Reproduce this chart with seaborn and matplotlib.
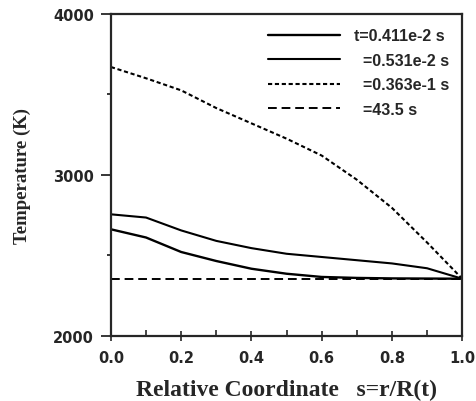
import numpy as np
import pandas as pd
import seaborn as sns
import matplotlib.pyplot as plt
from matplotlib.ticker import MultipleLocator

# radial profiles
s = [0.0, 0.1, 0.2, 0.3, 0.4, 0.5, 0.6, 0.7, 0.8, 0.9, 1.0]
T_411e2 = [2662, 2611, 2521, 2465, 2417, 2386, 2366, 2360, 2357, 2356, 2355]
T_531e2 = [2755, 2735, 2655, 2590, 2545, 2510, 2490, 2470, 2450, 2420, 2355]
T_363e1 = [3670, 3600, 3525, 3415, 3320, 3225, 3120, 2970, 2795, 2580, 2355]
T_435 = [2355] * 11
labels = ["t=0.411e-2 s", "  =0.531e-2 s", "  =0.363e-1 s", "  =43.5 s"]

df = pd.DataFrame({"s": s * 4,
                   "T": T_411e2 + T_531e2 + T_363e1 + T_435,
                   "case": np.repeat(labels, len(s))})

sns.set_style("ticks")
plt.rcParams["font.family"] = ["Liberation Sans", "DejaVu Sans"]

fig = plt.figure(figsize=(4.76, 4.02), dpi=100)
ax = fig.add_axes([0.233, 0.162, 0.738, 0.801])

styles = {labels[0]: (1.7, "-"), labels[1]: (1.5, "-"),
          labels[2]: (1.5, (0, (2.0, 1.3))), labels[3]: (1.4, (0, (4.5, 2.5)))}
for lab in labels:
    lw, ls = styles[lab]
    sns.lineplot(data=df[df["case"] == lab], x="s", y="T", ax=ax, color="black",
                 lw=lw, linestyle=ls, label=lab)

ax.set_xlim(0, 1)
ax.set_ylim(2000, 4000)
ax.xaxis.set_major_locator(MultipleLocator(0.2))
ax.xaxis.set_minor_locator(MultipleLocator(0.1))
ax.yaxis.set_major_locator(MultipleLocator(1000))
ax.yaxis.set_minor_locator(MultipleLocator(500))
ax.tick_params(axis="x", which="major", direction="inout", length=7, width=1.2, pad=7)
ax.tick_params(axis="x", which="minor", direction="in", length=4, width=1.2)
ax.tick_params(axis="y", which="major", direction="out", length=7, width=1.3, pad=5)
ax.tick_params(axis="y", which="minor", direction="out", length=3, width=1.3)
for t in ax.get_xticklabels() + ax.get_yticklabels():
    t.set_fontweight("bold")
    t.set_family("DejaVu Sans")
    t.set_fontsize(10.5)
for sp in ax.spines.values():
    sp.set_linewidth(1.6)
ax.yaxis.set_major_formatter(plt.FuncFormatter(lambda v, p: f"{v:.0f}"))
ax.xaxis.set_major_formatter(plt.FuncFormatter(lambda v, p: f"{v:.1f}"))

ax.set_xlabel("Relative Coordinate   s=r/R(t)", family="Liberation Serif",
              fontweight="bold", fontsize=17, labelpad=10)
ax.set_ylabel("Temperature (K)", family="Liberation Serif",
              fontweight="bold", fontsize=13.5, labelpad=16)

leg = ax.legend(loc="upper right", frameon=False, fontsize=11.5,
                handlelength=4.5, handletextpad=0.9, labelspacing=0.6,
                borderaxespad=0.3, bbox_to_anchor=(0.995, 0.99))
for t in leg.get_texts():
    t.set_fontweight("bold")

fig.savefig("out.png", dpi=100)
